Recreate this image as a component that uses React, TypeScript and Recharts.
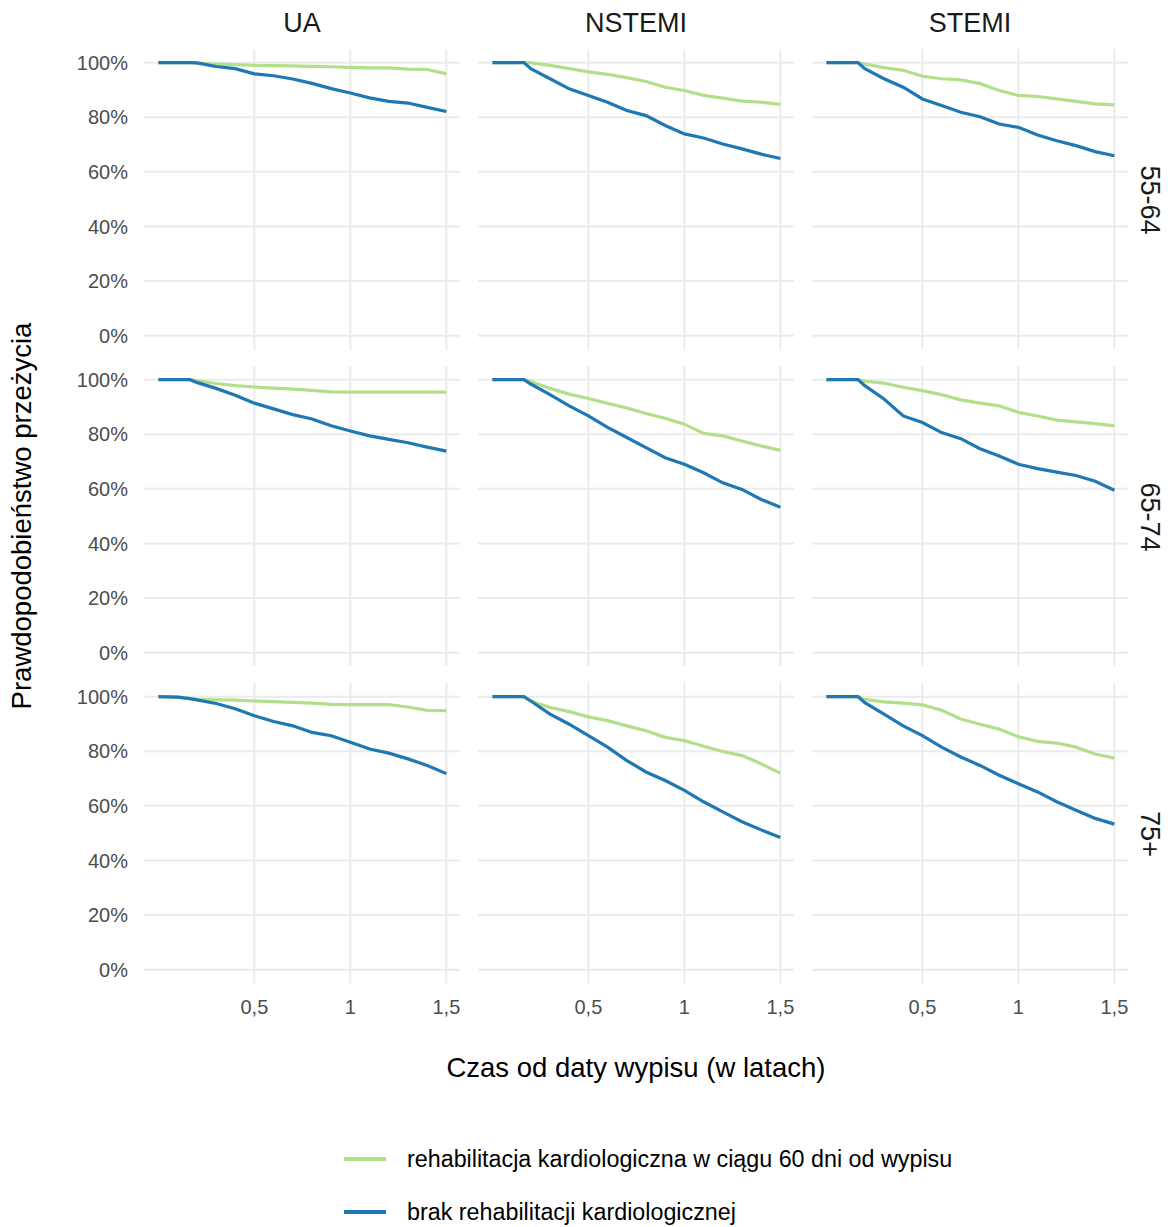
import { LineChart, Line, XAxis, YAxis, CartesianGrid } from 'recharts'

// time since discharge (years)
const TIME = [0, 0.1, 0.164, 0.2, 0.3, 0.4, 0.5, 0.6, 0.7, 0.8, 0.9, 1.0, 1.1, 1.2, 1.3, 1.4, 1.5]

const X_TICKS = [0.5, 1, 1.5]
const Y_TICKS = [0, 20, 40, 60, 80, 100]

const COLUMNS = ['UA', 'NSTEMI', 'STEMI']
const ROWS = ['55-64', '65-74', '75+']

// survival (%) – cardiac rehab within 60 days vs. none
const UA_55_REHAB = [100, 100, 100, 99.8, 99.5, 99.3, 99.0, 98.9, 98.8, 98.6, 98.5, 98.3, 98.1, 98.1, 97.6, 97.5, 95.9]
const UA_55_NONE = [100, 100, 100, 99.9, 98.6, 97.8, 95.9, 95.2, 94.0, 92.4, 90.5, 88.9, 87.1, 85.8, 85.2, 83.6, 82.1]
const NSTEMI_55_REHAB = [100, 100, 100, 99.9, 99.0, 97.8, 96.6, 95.7, 94.5, 93.1, 91.0, 89.8, 88.0, 87.0, 85.9, 85.5, 84.7]
const NSTEMI_55_NONE = [100, 100, 100, 97.8, 94.1, 90.4, 88.0, 85.5, 82.5, 80.6, 77.0, 73.9, 72.4, 70.2, 68.4, 66.5, 64.9]
const STEMI_55_REHAB = [100, 100, 100, 99.5, 98.2, 97.2, 95.0, 94.1, 93.7, 92.3, 89.8, 88.0, 87.6, 86.7, 85.8, 84.9, 84.5]
const STEMI_55_NONE = [100, 100, 100, 97.8, 94.1, 91.0, 86.7, 84.3, 81.8, 80.2, 77.5, 76.3, 73.5, 71.4, 69.6, 67.4, 65.9]

const UA_65_REHAB = [100, 100, 100, 99.6, 98.6, 97.8, 97.3, 96.9, 96.5, 96.1, 95.5, 95.4, 95.4, 95.4, 95.4, 95.4, 95.4]
const UA_65_NONE = [100, 100, 100, 99.0, 96.8, 94.3, 91.4, 89.3, 87.2, 85.6, 83.1, 81.2, 79.4, 78.1, 76.9, 75.3, 73.8]
const NSTEMI_65_REHAB = [100, 100, 100, 99.3, 96.8, 94.7, 93.1, 91.3, 89.6, 87.6, 85.8, 83.7, 80.3, 79.4, 77.5, 75.7, 74.1]
const NSTEMI_65_NONE = [100, 100, 100, 98.4, 94.5, 90.4, 86.7, 82.5, 78.8, 75.1, 71.4, 69.0, 65.9, 62.2, 59.8, 56.1, 53.3]
const STEMI_65_REHAB = [100, 100, 100, 99.4, 98.7, 97.2, 96.0, 94.5, 92.6, 91.4, 90.4, 88.0, 86.7, 85.2, 84.5, 83.9, 83.1]
const STEMI_65_NONE = [100, 100, 100, 97.8, 92.9, 86.7, 84.3, 80.6, 78.4, 74.7, 72.0, 69.0, 67.4, 66.1, 64.9, 62.8, 59.5]

const UA_75_REHAB = [100, 99.8, 99.3, 99.0, 98.8, 98.7, 98.4, 98.2, 97.9, 97.6, 97.2, 97.1, 97.1, 97.1, 96.2, 95.0, 94.9]
const UA_75_NONE = [100, 99.8, 99.3, 98.8, 97.5, 95.6, 93.0, 90.9, 89.3, 86.9, 85.7, 83.3, 80.8, 79.3, 77.2, 74.8, 71.8]
const NSTEMI_75_REHAB = [100, 100, 100, 98.4, 96.0, 94.5, 92.6, 91.2, 89.3, 87.5, 85.1, 83.9, 81.8, 79.9, 78.4, 75.4, 72.0]
const NSTEMI_75_NONE = [100, 100, 100, 98.4, 93.6, 89.9, 85.7, 81.5, 76.6, 72.4, 69.3, 65.7, 61.5, 57.8, 54.2, 51.2, 48.4]
const STEMI_75_REHAB = [100, 100, 100, 99.0, 98.1, 97.6, 97.0, 95.0, 91.8, 89.9, 88.1, 85.3, 83.6, 83.0, 81.5, 79.0, 77.5]
const STEMI_75_NONE = [100, 100, 100, 97.8, 93.6, 89.3, 85.7, 81.5, 77.9, 74.8, 71.2, 68.1, 65.1, 61.5, 58.4, 55.4, 53.3]

const PANELS = [
  [[UA_55_REHAB, UA_55_NONE], [NSTEMI_55_REHAB, NSTEMI_55_NONE], [STEMI_55_REHAB, STEMI_55_NONE]],
  [[UA_65_REHAB, UA_65_NONE], [NSTEMI_65_REHAB, NSTEMI_65_NONE], [STEMI_65_REHAB, STEMI_65_NONE]],
  [[UA_75_REHAB, UA_75_NONE], [NSTEMI_75_REHAB, NSTEMI_75_NONE], [STEMI_75_REHAB, STEMI_75_NONE]],
]

const GREEN = '#B2DF8A'
const BLUE = '#1F78B4'
const FONT = '"Liberation Sans", Arial, sans-serif'

const PLOT_W = 316.8
const PLOT_H = 300.3
const COL_X = [143.6, 477.6, 811.6]
const ROW_Y = [49.35, 366.35, 683.35]
const Y_AXIS_W = 100
const X_AXIS_H = 50

const tickStyle = { fill: '#4D4D4D', fontSize: 20, fontFamily: FONT }

function Panel({ rehab, none, row, col }: { rehab: number[]; none: number[]; row: number; col: number }) {
  const showY = col === 0
  const showX = row === 2
  const data = TIME.map((t, i) => ({ t, rehab: rehab[i], none: none[i] }))
  const w = PLOT_W + (showY ? Y_AXIS_W : 0)
  const h = PLOT_H + (showX ? X_AXIS_H : 0)
  return (
    <div style={{ position: 'absolute', left: COL_X[col] - (showY ? Y_AXIS_W : 0), top: ROW_Y[row] }}>
      <LineChart width={w} height={h} data={data} margin={{ top: 0, right: 0, bottom: 0, left: 0 }}>
        <CartesianGrid stroke="#EBEBEB" strokeWidth={2} syncWithTicks />
        <XAxis
          dataKey="t"
          type="number"
          domain={[-0.075, 1.575]}
          ticks={X_TICKS}
          hide={!showX}
          height={X_AXIS_H}
          axisLine={false}
          tickLine={false}
          tickSize={0}
          tickMargin={17}
          tick={tickStyle}
          tickFormatter={(v: number) => String(v).replace('.', ',')}
        />
        <YAxis
          type="number"
          domain={[-5, 105]}
          ticks={Y_TICKS}
          hide={!showY}
          width={Y_AXIS_W}
          axisLine={false}
          tickLine={false}
          tickSize={0}
          tickMargin={16}
          tick={tickStyle}
          tickFormatter={(v: number) => `${v}%`}
        />
        <Line type="linear" dataKey="rehab" stroke={GREEN} strokeWidth={3.2} dot={false} isAnimationActive={false} />
        <Line type="linear" dataKey="none" stroke={BLUE} strokeWidth={3.2} dot={false} isAnimationActive={false} />
      </LineChart>
    </div>
  )
}

export default function App() {
  return (
    <div style={{ position: 'absolute', left: 0, top: 0, width: 1168, height: 1227, background: '#fff', fontFamily: FONT }}>
      {PANELS.map((cols, r) =>
        cols.map(([rehab, none], c) => <Panel key={`${r}-${c}`} rehab={rehab} none={none} row={r} col={c} />)
      )}

      {COLUMNS.map((label, c) => (
        <div
          key={label}
          style={{
            position: 'absolute',
            left: COL_X[c],
            width: PLOT_W,
            top: 8,
            textAlign: 'center',
            fontSize: 27,
            color: '#1A1A1A',
            lineHeight: '30px',
          }}
        >
          {label}
        </div>
      ))}

      {ROWS.map((label, r) => (
        <div
          key={label}
          style={{
            position: 'absolute',
            left: 1150,
            top: ROW_Y[r] + PLOT_H / 2,
            transform: 'translate(-50%, -50%) rotate(90deg)',
            fontSize: 27,
            color: '#1A1A1A',
            whiteSpace: 'nowrap',
            lineHeight: '30px',
          }}
        >
          {label}
        </div>
      ))}

      <div
        style={{
          position: 'absolute',
          left: 22,
          top: 516,
          transform: 'translate(-50%, -50%) rotate(-90deg)',
          fontSize: 27.5,
          whiteSpace: 'nowrap',
          lineHeight: '30px',
        }}
      >
        Prawdopodobieństwo przeżycia
      </div>

      <div
        style={{
          position: 'absolute',
          left: 0,
          width: 1272,
          top: 1053,
          textAlign: 'center',
          fontSize: 27.5,
          lineHeight: '30px',
        }}
      >
        Czas od daty wypisu (w latach)
      </div>

      {[
        { color: GREEN, label: 'rehabilitacja kardiologiczna w ciągu 60 dni od wypisu', y: 1159 },
        { color: BLUE, label: 'brak rehabilitacji kardiologicznej', y: 1212 },
      ].map((item) => (
        <div key={item.label} style={{ position: 'absolute', left: 344, top: item.y - 15, height: 30, display: 'flex', alignItems: 'center' }}>
          <div style={{ width: 42, height: 4, background: item.color }} />
          <div style={{ marginLeft: 21, fontSize: 23.3, whiteSpace: 'nowrap' }}>{item.label}</div>
        </div>
      ))}
    </div>
  )
}
